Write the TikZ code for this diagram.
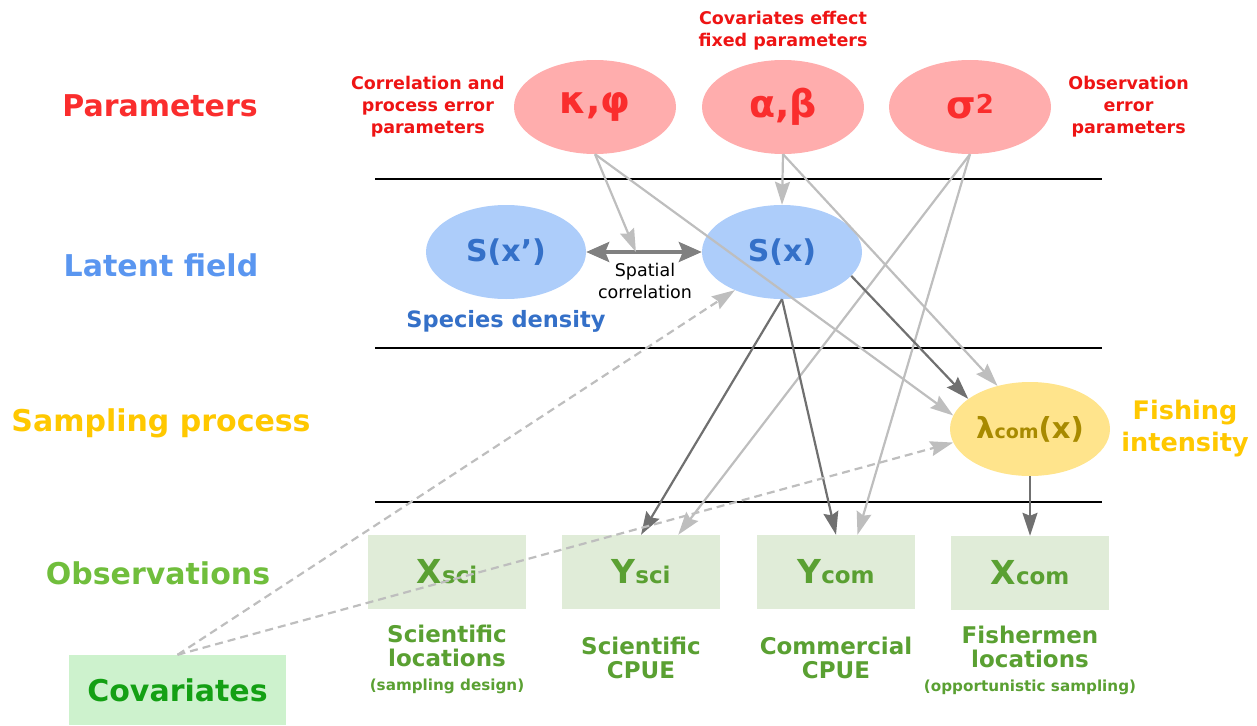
\documentclass[tikz,border=0pt]{standalone}
\usepackage{fontspec}
\setmainfont{DejaVu Sans}
\usetikzlibrary{shapes.geometric,arrows.meta,positioning}
\definecolor{parfill}{RGB}{255,173,173}
\definecolor{partext}{RGB}{250,45,45}
\definecolor{parnote}{RGB}{238,20,20}
\definecolor{latfill}{RGB}{173,205,250}
\definecolor{lattext}{RGB}{52,112,200}
\definecolor{latlevel}{RGB}{90,150,240}
\definecolor{lamfill}{RGB}{255,228,140}
\definecolor{lamtext}{RGB}{168,138,0}
\definecolor{samplevel}{RGB}{255,200,0}
\definecolor{obsfill}{RGB}{224,236,216}
\definecolor{obstext}{RGB}{90,160,50}
\definecolor{obslevel}{RGB}{112,190,60}
\definecolor{covfill}{RGB}{205,242,205}
\definecolor{covtext}{RGB}{20,160,20}
\definecolor{softgray}{RGB}{190,190,190}
\definecolor{darkgray}{RGB}{112,112,112}
\definecolor{midgray}{RGB}{128,128,128}
\tikzset{
    semithick,
    level/.style = {inner sep=0pt, font=\bfseries\fontsize{30}{34}\selectfont},
    param/.style = {ellipse, fill=parfill, text=partext, minimum width=162pt, minimum height=94pt, inner sep=0pt, font=\bfseries\fontsize{38}{44}\selectfont},
    latent/.style = {ellipse, fill=latfill, text=lattext, minimum width=160pt, minimum height=94pt, inner sep=0pt, font=\bfseries\fontsize{30}{36}\selectfont},
    intensity/.style = {ellipse, fill=lamfill, text=lamtext, minimum width=160pt, minimum height=94pt, inner sep=0pt, font=\bfseries\fontsize{29}{34}\selectfont},
    obs/.style = {rectangle, fill=obsfill, text=obstext, minimum width=158pt, minimum height=74pt, inner sep=0pt, font=\bfseries\fontsize{33}{38}\selectfont},
    covbox/.style = {rectangle, fill=covfill, text=covtext, minimum width=217pt, minimum height=70pt, inner sep=0pt, font=\bfseries\fontsize{30}{36}\selectfont},
    note/.style = {inner sep=0pt, align=center, text=parnote, font=\bfseries\fontsize{17.5}{22}\selectfont},
    obsnote/.style = {inner sep=0pt, align=center, text=obstext, font=\bfseries\fontsize{23}{24}\selectfont},
    separator/.style = {black, line width=1.4pt},
    soft/.style = {draw=softgray, line width=2.2pt, -{Stealth[length=23pt,width=15pt,inset=3pt]}},
    strong/.style = {draw=darkgray, line width=2.2pt, -{Stealth[length=23pt,width=15pt,inset=3pt]}},
    covlink/.style = {draw=softgray, line width=2.2pt, dash pattern=on 8pt off 5pt, -{Stealth[length=23pt,width=15pt,inset=3pt]}},
    bidirected/.style = {draw=midgray, line width=3.6pt, {Stealth[length=23pt,width=20pt,inset=4pt]}-{Stealth[length=23pt,width=20pt,inset=4pt]}}
}
\newcommand{\sub}[1]{{\fontsize{23}{26}\selectfont #1}}

\begin{document}
\begin{tikzpicture}[x=1pt,y=-1pt]
    \useasboundingbox (0,0) rectangle (1257,725);
    % Level names on the left
    \node[level, text=partext] (lpar) at (160,106) {Parameters};
    \node[level, text=latlevel] (llat) at (161,265) {Latent field};
    \node[level, text=samplevel] (lsamp) at (161,423) {Sampling process};
    \node[level, text=obslevel] (lobs) at (158,573) {Observations};
    \foreach \y in {179,348,502}
        \draw[separator] (375,\y) -- (1102,\y);
    % Parameters
    \node[param] (kp) at (595,107) {κ,φ};
    \node[param] (ab) at (783,107) {α,β};
    \node[param] (s2) at (970,107) {σ{\raisebox{5pt}{\fontsize{26}{30}\selectfont 2}}};
    \node[note] [left=9pt of kp] {Correlation and\\process error\\parameters};
    \node[note] [above=9pt of ab] {Covariates effect\\fixed parameters};
    \node[note] [right=17pt of s2] {Observation\\error\\parameters};
    % Latent field
    \node[latent] (sxp) at (506,252) {S(x')};
    \node[latent] (sx) at (782,252) {S(x)};
    \node[inner sep=0pt, text=lattext, font=\bfseries\fontsize{22.5}{26}\selectfont] [below=11pt of sxp] {Species density};
    \draw[bidirected] (sxp) -- coordinate[pos=0.43] (corr) (sx);
    \node[inner sep=0pt, align=center, font=\fontsize{17.5}{22}\selectfont] (corrtext) at (645,281) {Spatial\\correlation};
    % Sampling process
    \node[intensity] (lam) at (1030,429) {λ{\fontsize{19}{22}\selectfont com}(x)};
    \node[inner sep=0pt, align=center, text=samplevel, font=\bfseries\fontsize{25.5}{32}\selectfont] [right=11pt of lam] {Fishing\\intensity};
    % Observations
    \node[obs] (xsci) at (447,572) {X\sub{sci}};
    \node[obs] (ysci) at (641,572) {Y\sub{sci}};
    \node[obs] (ycom) at (836,572) {Y\sub{com}};
    \node[obs] (xcom) at (1030,573) {X\sub{com}};
    \node[obsnote] [below=16pt of xsci] {Scientific\\locations\\{\fontsize{15.2}{24}\selectfont (sampling design)}};
    \node[obsnote] [below=28pt of ysci] {Scientific\\CPUE};
    \node[obsnote] [below=28pt of ycom] {Commercial\\CPUE};
    \node[obsnote] [below=16pt of xcom] {Fishermen\\locations\\{\fontsize{15.2}{24}\selectfont (opportunistic sampling)}};
    \node[covbox] (cov) at (177.5,690) {Covariates};
    % Parameter links
    \draw[soft] (kp.south) -- (corr);
    \draw[soft] (kp.south) -- (lam.170);
    \draw[soft] (ab.south) -- (sx.north);
    \draw[soft] (ab.south) -- (lam.127);
    \draw[soft] (s2.south) -- (ysci.45);
    \draw[soft] (s2.south) -- (ycom.60);
    % Latent field links
    \draw[strong] (sx.south) -- (ysci.north);
    \draw[strong] (sx.south) -- (ycom.north);
    \draw[strong] (sx.-19) -- (lam.154);
    \draw[strong] (lam.south) -- (xcom.north);
    % Covariates
    \draw[covlink] (cov.north) -- (sx.219);
    \draw[covlink] (cov.north) -- (lam.190);
\end{tikzpicture}
\end{document}
